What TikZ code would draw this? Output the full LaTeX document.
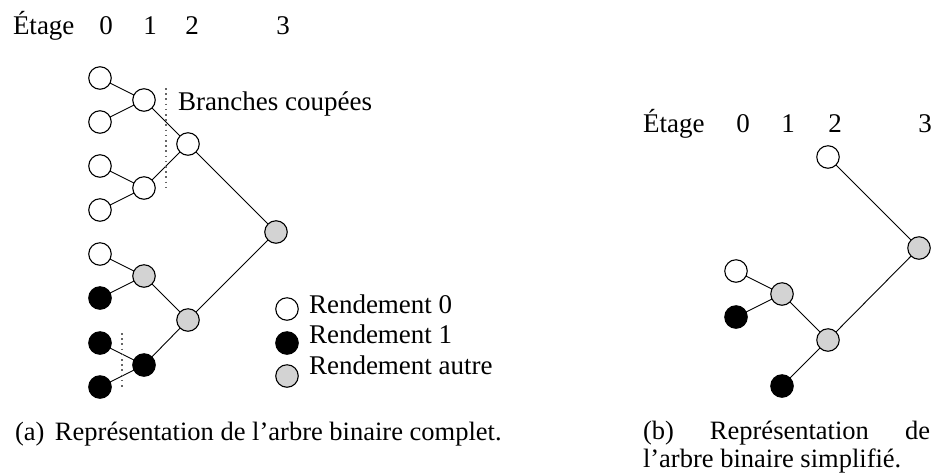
\documentclass[tikz,border=0pt]{standalone}
\usepackage{fontspec}
\setmainfont{Liberation Serif}
\definecolor{midgray}{RGB}{211,211,211}
\begin{document}
\begin{tikzpicture}[x=1pt,y=-1pt,
  every node/.style={inner sep=0pt, outer sep=0pt},
  leaf/.style={circle, draw=black, line width=1.1pt, minimum size=22.5pt},
  zero/.style={leaf, fill=white},
  one/.style={leaf, fill=black},
  other/.style={leaf, fill=midgray},
  branch/.style={line width=0.9pt},
  cutline/.style={draw=black!60, line width=1.3pt, dash pattern=on 1.6pt off 3.6pt},
  txt/.style={font=\fontsize{27}{29}\selectfont, anchor=base west},
  captext/.style={font=\fontsize{26.5}{28}\selectfont, anchor=base west},
  num/.style={font=\fontsize{27}{29}\selectfont, anchor=base}]

\useasboundingbox (0,0) rectangle (944,475);

% ---------- (a) complete binary tree ----------
\node[txt] (ha) at (13,34) {Étage};
\node[num] (ha0) at (106,34) {0};
\node[num] (ha1) at (150,34) {1};
\node[num] (ha2) at (192,34) {2};
\node[num] (ha3) at (283,34) {3};

% stage 0
\node[zero] (a1) at (100,78) {};
\node[zero] (a2) at (100,122) {};
\node[zero] (a3) at (100,166) {};
\node[zero] (a4) at (100,210) {};
\node[zero] (a5) at (100,254) {};
\node[one]  (a6) at (100,298) {};
\node[one]  (a7) at (100,343) {};
\node[one]  (a8) at (100,387) {};
% stage 1
\node[zero]  (b1) at (144,100) {};
\node[zero]  (b2) at (144,188) {};
\node[other] (b3) at (144,276) {};
\node[one]   (b4) at (144,365) {};
% stage 2
\node[zero]  (c1) at (188,144) {};
\node[other] (c2) at (188,320) {};
% stage 3
\node[other] (d1) at (276,232) {};

\draw[branch] (a1) -- (b1);
\draw[branch] (a2) -- (b1);
\draw[branch] (a3) -- (b2);
\draw[branch] (a4) -- (b2);
\draw[branch] (a5) -- (b3);
\draw[branch] (a6) -- (b3);
\draw[branch] (a7) -- (b4);
\draw[branch] (a8) -- (b4);
\draw[branch] (b1) -- (c1);
\draw[branch] (b2) -- (c1);
\draw[branch] (b3) -- (c2);
\draw[branch] (b4) -- (c2);
\draw[branch] (c1) -- (d1);
\draw[branch] (c2) -- (d1);

% pruned branches
\coordinate (cutAtop) at (166,88);
\coordinate (cutAbot) at (166,192);
\coordinate (cutBtop) at (122,333);
\coordinate (cutBbot) at (122,389);
\draw[cutline] (cutAtop) -- (cutAbot);
\draw[cutline] (cutBtop) -- (cutBbot);
\node[txt] (cutlbl) at (178,110) {Branches coupées};

% legend
\node[zero]  (k0) at (287,309) {};
\node[one]   (k1) at (287,343) {};
\node[other] (k2) at (287,376) {};
\node[txt] (k0t) at (309,313) {Rendement 0};
\node[txt] (k1t) at (309,343) {Rendement 1};
\node[txt] (k2t) at (309,374) {Rendement autre};

\node[captext] (capa) at (15,440) {(a)\hspace{0.4em}Représentation de l’arbre binaire complet.};

% ---------- (b) simplified binary tree ----------
\node[txt] (hb) at (643,132) {Étage};
\node[num] (hb0) at (743,132) {0};
\node[num] (hb1) at (788,132) {1};
\node[num] (hb2) at (835,132) {2};
\node[num] (hb3) at (925,132) {3};

\node[zero]  (s1) at (736,271) {};
\node[one]   (s2) at (736,317) {};
\node[other] (t1) at (782,294) {};
\node[one]   (t2) at (782,386) {};
\node[zero]  (u1) at (828,157) {};
\node[other] (u2) at (828,340) {};
\node[other] (v1) at (919,248) {};

\draw[branch] (s1) -- (t1);
\draw[branch] (s2) -- (t1);
\draw[branch] (t1) -- (u2);
\draw[branch] (t2) -- (u2);
\draw[branch] (u1) -- (v1);
\draw[branch] (u2) -- (v1);

\node[captext] (capb1) at (643,439) {\makebox[287pt][s]{(b) Représentation de}};
\node[captext] (capb2) at (643,467) {l’arbre binaire simplifié.};
\end{tikzpicture}
\end{document}
